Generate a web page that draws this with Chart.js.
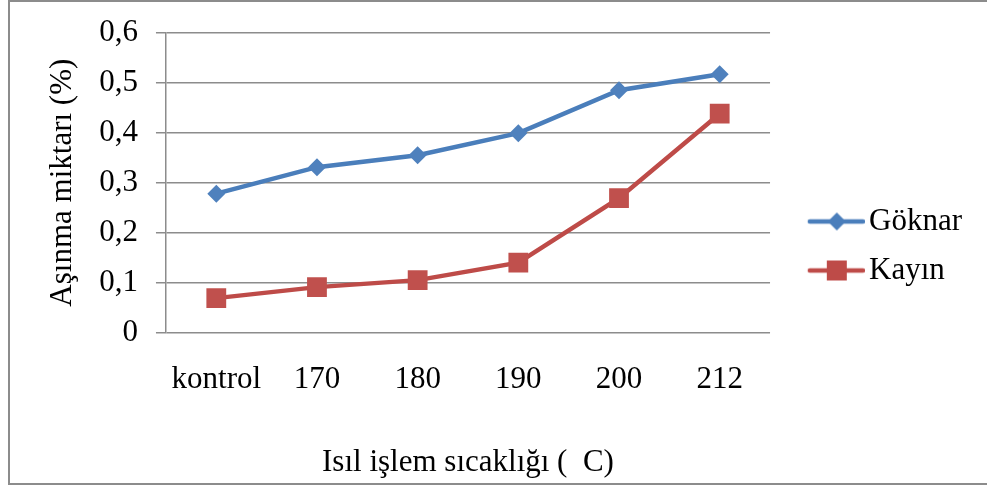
<!DOCTYPE html>
<html>
<head>
<meta charset="utf-8">
<script src="https://cdn.jsdelivr.net/npm/chart.js"></script>
<style>
  body { margin: 0; background: #fff; }
  canvas { display: block; }
</style>
</head>
<body>
<canvas id="chart" width="987" height="486"></canvas>
<script>
// chart data
const categories = ['kontrol', '170', '180', '190', '200', '212'];
const goknar = [0.278, 0.331, 0.355, 0.399, 0.485, 0.517];
const kayin = [0.069, 0.091, 0.105, 0.140, 0.269, 0.438];
const yTickLabels = ['0', '0,1', '0,2', '0,3', '0,4', '0,5', '0,6'];
const seriesNames = ['Göknar', 'Kayın'];

const blue = '#4A7EBB';
const red = '#BE4B48';
const font = 'Liberation Serif';
const fontSize = 31;

// legend icon: line with the marker in the middle (left part left empty on purpose)
function legendIcon(color, style) {
  const c = document.createElement('canvas');
  c.width = 88;
  c.height = 24;
  const ctx = c.getContext('2d');
  ctx.strokeStyle = color;
  ctx.lineWidth = 4.5;
  ctx.lineCap = 'round';
  ctx.beginPath();
  ctx.moveTo(33, 12);
  ctx.lineTo(86, 12);
  ctx.stroke();
  ctx.fillStyle = color;
  ctx.beginPath();
  if (style === 'diamond') {
    ctx.moveTo(60, 3);
    ctx.lineTo(69, 12);
    ctx.lineTo(60, 21);
    ctx.lineTo(51, 12);
    ctx.closePath();
  } else {
    ctx.rect(50, 2, 20, 20);
  }
  ctx.fill();
  return c;
}
const icons = [legendIcon(blue, 'diamond'), legendIcon(red, 'square')];

// outer frame around the whole picture
const framePlugin = {
  id: 'frame',
  beforeDraw(chart) {
    const ctx = chart.ctx;
    ctx.save();
    ctx.fillStyle = '#fff';
    ctx.fillRect(0, 0, chart.width, chart.height);
    ctx.strokeStyle = '#8c8c8c';
    ctx.lineWidth = 2;
    ctx.strokeRect(9, 1, 990, 483);
    ctx.restore();
  }
};

// move the legend block up a little
const legendShift = {
  id: 'legendShift',
  afterLayout(chart) {
    chart.legend.top -= 8;
    chart.legend.bottom -= 8;
  }
};

new Chart(document.getElementById('chart'), {
  type: 'line',
  data: {
    labels: categories,
    datasets: [{
      label: seriesNames[0],
      data: goknar,
      borderColor: blue,
      backgroundColor: '#4F81BD',
      borderWidth: 4.5,
      pointStyle: 'rectRot',
      pointRadius: 9,
      pointBorderWidth: 0,
      tension: 0
    }, {
      label: seriesNames[1],
      data: kayin,
      borderColor: red,
      backgroundColor: '#C0504D',
      borderWidth: 4.5,
      pointStyle: 'rect',
      pointRadius: 14,
      pointBorderWidth: 0,
      tension: 0
    }]
  },
  options: {
    responsive: false,
    animation: false,
    devicePixelRatio: 1,
    layout: { padding: { left: 20, top: 27, right: 15, bottom: 5 } },
    plugins: {
      tooltip: { enabled: false },
      legend: {
        position: 'right',
        labels: {
          usePointStyle: true,
          pointStyleWidth: 65.5,
          padding: 18,
          color: '#000',
          font: { family: font, size: fontSize },
          generateLabels(chart) {
            return chart.data.datasets.map((ds, i) => ({
              text: ds.label,
              fontColor: '#000',
              pointStyle: icons[i],
              lineWidth: 0,
              strokeStyle: 'transparent',
              fillStyle: 'transparent',
              hidden: false,
              datasetIndex: i
            }));
          }
        }
      }
    },
    scales: {
      x: {
        offset: true,
        grid: { display: false, drawTicks: false },
        border: { display: false },
        ticks: { color: '#000', font: { family: font, size: fontSize }, padding: 29, maxRotation: 0 },
        title: {
          display: true,
          text: 'Isıl işlem sıcaklığı (  C)',
          color: '#000',
          font: { family: font, size: fontSize },
          padding: { top: 16, bottom: 0 }
        }
      },
      y: {
        min: 0,
        max: 0.6,
        grid: { color: '#8c8c8c', lineWidth: 1.5, tickLength: 10 },
        border: { color: '#8c8c8c', width: 1.5 },
        ticks: {
          stepSize: 0.1,
          color: '#000',
          padding: 18,
          font: { family: font, size: fontSize, lineHeight: 0.95 },
          callback: (v, i) => yTickLabels[i]
        },
        title: {
          display: true,
          text: 'Aşınma miktarı (%)',
          color: '#000',
          font: { family: font, size: fontSize },
          padding: { top: 24, bottom: 0 }
        }
      }
    }
  },
  plugins: [framePlugin, legendShift]
});
</script>
</body>
</html>
